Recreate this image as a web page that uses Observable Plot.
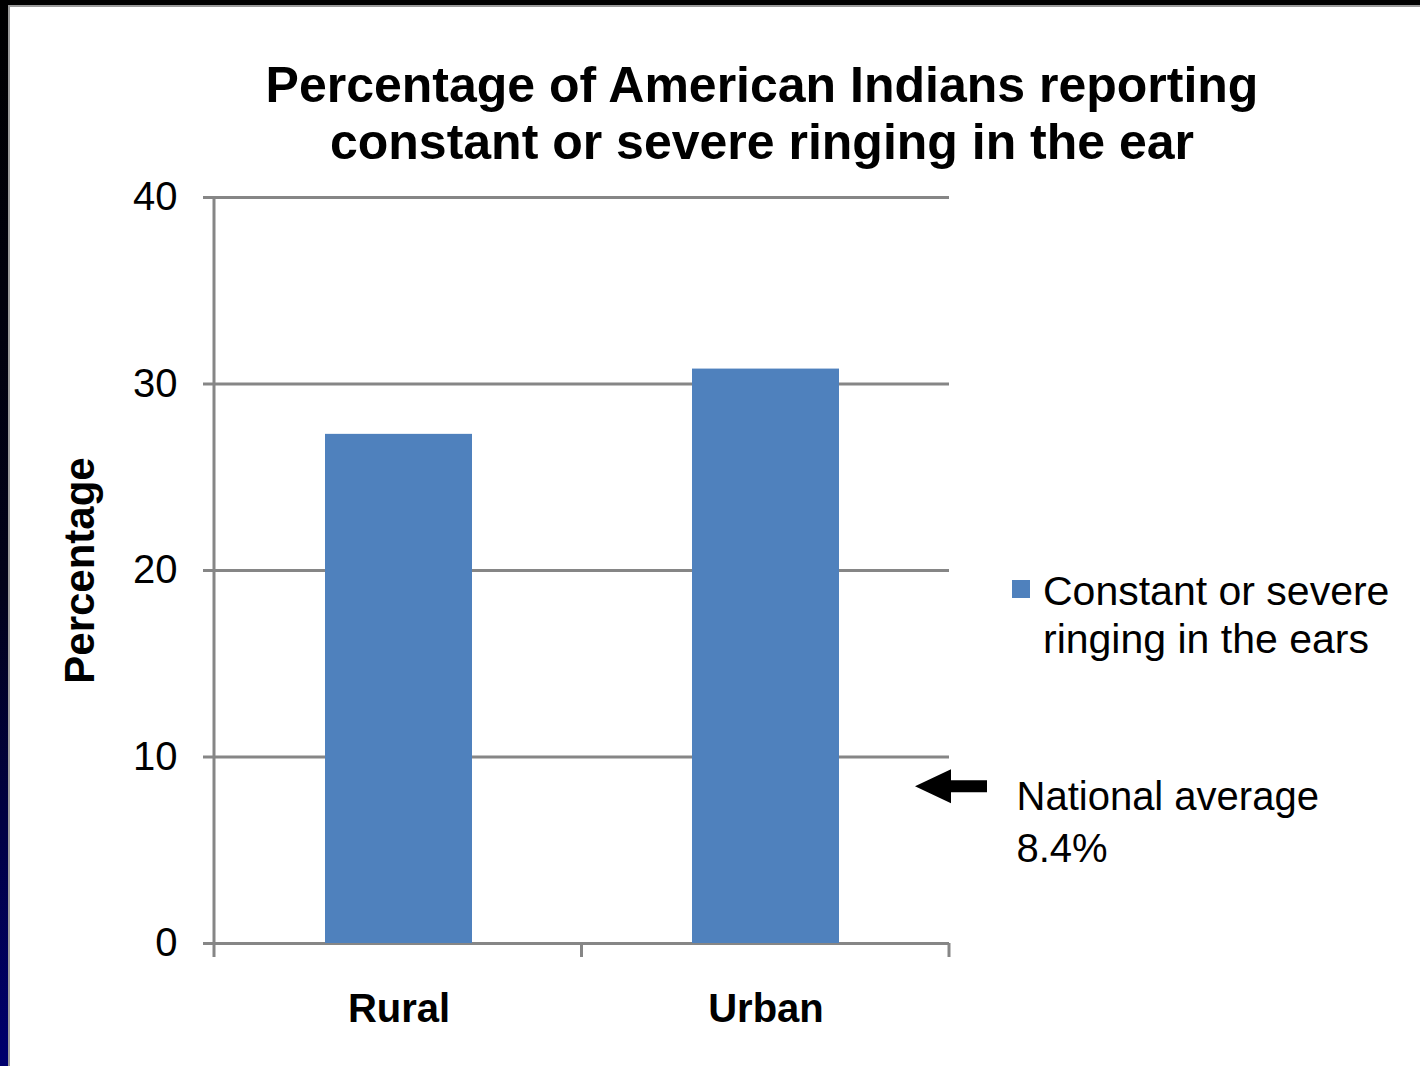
<!DOCTYPE html>
<html>
<head>
<meta charset="utf-8">
<script src="https://cdn.jsdelivr.net/npm/d3@7"></script>
<script src="https://cdn.jsdelivr.net/npm/@observablehq/plot@0.6"></script>
<style>
  html, body { margin: 0; padding: 0; background: #fff; }
  #slide {
    position: relative; width: 1420px; height: 1066px; overflow: hidden;
    font-family: "Liberation Sans", Arial, sans-serif; color: #000; background: #fff;
  }
  #edge-top { position: absolute; left: 0; top: 0; width: 1420px; height: 5px; background: #000; }
  #edge-left { position: absolute; left: 0; top: 0; width: 8px; height: 1066px;
    background: linear-gradient(to bottom, #000 0%, #02021a 55%, #00006e 100%); }
  #rule-top { position: absolute; left: 8px; top: 5px; width: 1412px; height: 2px; background: #9a9a9a; }
  #rule-left { position: absolute; left: 8px; top: 5px; width: 2px; height: 1061px; background: #9a9a9a; }
  #title {
    position: absolute; left: 0; top: 57px; width: 1524px; text-align: center;
    font-weight: bold; font-size: 50px; line-height: 57px;
  }
  #chart { position: absolute; left: 0; top: 0; }
  #legend {
    position: absolute; left: 1012px; top: 567px; font-size: 41px; line-height: 48px;
  }
  #legend .swatch { position: absolute; left: 0; top: 13px; width: 18px; height: 18px; }
  #legend .label { position: absolute; left: 31px; top: 0; white-space: nowrap; }
</style>
</head>
<body>
<div id="slide">
  <div id="edge-top"></div>
  <div id="edge-left"></div>
  <div id="rule-top"></div>
  <div id="rule-left"></div>
  <div id="title"></div>
  <div id="chart"></div>
  <div id="legend"><div class="swatch"></div><div class="label"></div></div>
</div>
<script>
// Share of American Indians reporting constant or severe ringing in the ear
const titleLines = ["Percentage of American Indians reporting", "constant or severe ringing in the ear"];
const categories = ["Rural", "Urban"];
const percentages = [27.3, 30.8];
const yTicks = [0, 10, 20, 30, 40];
const yLabel = "Percentage";
const seriesName = ["Constant or severe", "ringing in the ears"];
const nationalAverage = 8.4;
const annotationLines = ["National average", `${nationalAverage}%`];

const barColor = "#4f81bd";
const gridColor = "#868686";

const rows = categories.map((c, i) => ({category: c, value: percentages[i]}));

document.getElementById("title").innerHTML = titleLines.join("<br>");
document.querySelector("#legend .swatch").style.background = barColor;
document.querySelector("#legend .label").innerHTML = seriesName.join("<br>");

// Category boundary ticks below the baseline, plus the y axis line
function categoryFrame(index, scales, values, dimensions) {
  const {y} = scales;
  const {marginLeft, marginRight, marginTop, width} = dimensions;
  const step = (width - marginLeft - marginRight) / categories.length;
  const y0 = y(0);
  const g = d3.create("svg:g").attr("stroke", gridColor).attr("stroke-width", 3);
  g.append("line").attr("x1", marginLeft).attr("x2", marginLeft)
    .attr("y1", marginTop).attr("y2", y0 + 14);
  for (let i = 1; i <= categories.length; ++i) {
    const xb = marginLeft + i * step;
    g.append("line").attr("x1", xb).attr("x2", xb).attr("y1", y0).attr("y2", y0 + 14);
  }
  return g.node();
}

// Left-pointing arrow marking the national average
function averageArrow(index, scales, values, dimensions) {
  const {y} = scales;
  const {width, marginRight} = dimensions;
  const right = width - marginRight;
  const cy = y(nationalAverage);
  const tip = right - 34, neck = right + 2, tail = right + 38;
  const pts = [
    [tip, cy], [neck, cy - 17], [neck, cy - 6], [tail, cy - 6],
    [tail, cy + 6], [neck, cy + 6], [neck, cy + 17]
  ];
  return d3.create("svg:polygon")
    .attr("points", pts.map(p => p.join(",")).join(" "))
    .attr("fill", "#000").node();
}

const chart = Plot.plot({
  width: 1420,
  height: 1066,
  marginLeft: 214,
  marginRight: 471,
  marginTop: 197,
  marginBottom: 123,
  style: {background: "transparent", fontFamily: "'Liberation Sans', Arial, sans-serif", color: "#000"},
  x: {domain: categories, padding: 0},
  y: {domain: [0, 40]},
  marks: [
    Plot.gridY(yTicks, {stroke: gridColor, strokeOpacity: 1, strokeWidth: 3}),
    Plot.barY(rows, {x: "category", y: "value", fill: barColor, insetLeft: 110, insetRight: 110}),
    categoryFrame,
    Plot.axisY(yTicks, {
      tickSize: 11, tickPadding: 26, stroke: gridColor, strokeWidth: 3, strokeOpacity: 1,
      fontSize: 40, label: yLabel, labelAnchor: "center", labelOffset: 150
    }),
    Plot.axisX({tickSize: 0, tickPadding: 50, fontSize: 40, fontWeight: "bold", label: null}),
    averageArrow,
    Plot.text([annotationLines.join("\n")], {
      y: [nationalAverage], frameAnchor: "right", dx: 67, dy: -14,
      textAnchor: "start", lineAnchor: "top", lineHeight: 1.3, fontSize: 40
    })
  ]
});
// bold, larger y-axis title without the direction arrow
chart.querySelectorAll("[aria-label='y-axis label'] text").forEach(t => {
  t.textContent = yLabel;
  t.setAttribute("font-weight", "bold");
  t.setAttribute("font-size", "42");
});
document.getElementById("chart").append(chart);
</script>
</body>
</html>
